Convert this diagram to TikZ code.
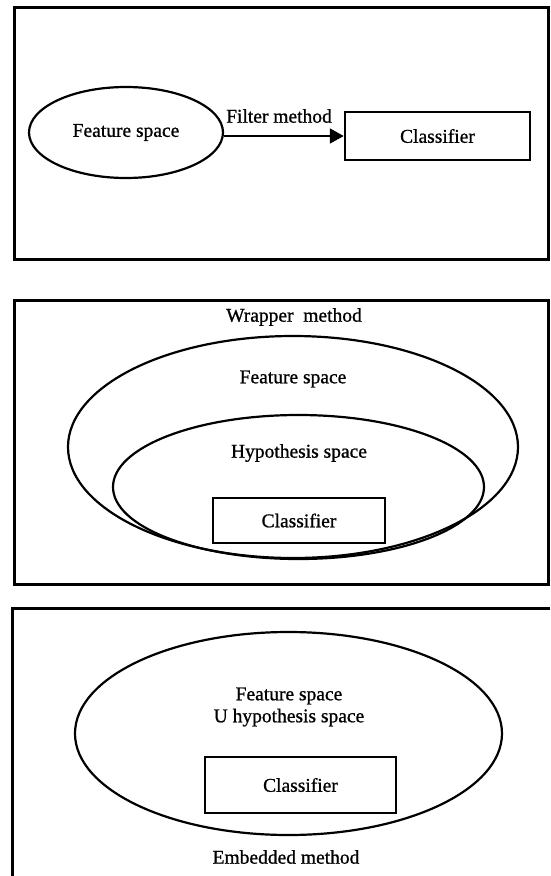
\documentclass[tikz,border=0pt]{standalone}
\usepackage{fontspec}
\setmainfont{Liberation Serif}[FakeBold=0.9]
\usetikzlibrary{shapes.geometric, arrows.meta}
\begin{document}
\begin{tikzpicture}[x=1pt, y=-1pt,
  panel/.style={line width=3pt, line join=miter},
  space/.style={ellipse, draw, line width=2.2pt, inner sep=0pt},
  txt/.style={font=\fontsize{19.5}{22}\selectfont},
  clfbox/.style={txt, draw, line width=2.5pt, inner sep=0pt},
  lbl/.style={txt, inner sep=0pt, align=center},
  arrow/.style={line width=2pt, -{Triangle[length=14pt,width=15pt]}}]
\useasboundingbox (0,0) rectangle (550,876);

% Filter method
\draw[panel] (14,7) rectangle (548.5,259);
\node[space, txt, minimum width=194pt, minimum height=91pt] (fs1) at (126,132.5) {Feature space};
\node[clfbox, minimum width=185pt, minimum height=48pt] (clf1) at (437.5,136) {Classifier};
\draw[arrow] (fs1.east |- clf1.west) -- (clf1.west);
\node[lbl] (filt) at (279,116) {Filter method};

% Wrapper method
\draw[panel] (14,300) rectangle (548.5,584);
\node[lbl] (wrap) at (294,317) {Wrapper\ \ method};
\node[space, minimum width=450pt, minimum height=222pt] (fs2) at (293,447) {};
\node[lbl] (fs2lbl) at (293,379) {Feature space};
\node[space, minimum width=371pt, minimum height=144pt] (hs2) at (298.5,487) {};
\node[lbl] (hs2lbl) at (299,453) {Hypothesis space};
\node[clfbox, minimum width=172pt, minimum height=45pt] (clf2) at (299,520.5) {Classifier};

% Embedded method
\draw[panel] (550,608) -- (12.5,608) -- (12.5,876);
\node[space, minimum width=427pt, minimum height=203pt] (fs3) at (288.5,733.5) {};
\node[lbl] (fs3lbl) at (289,707) {Feature space\\U hypothesis space};
\node[clfbox, minimum width=191pt, minimum height=56pt] (clf3) at (300.5,785) {Classifier};
\node[lbl] (emb) at (286,857) {Embedded method};
\end{tikzpicture}
\end{document}
